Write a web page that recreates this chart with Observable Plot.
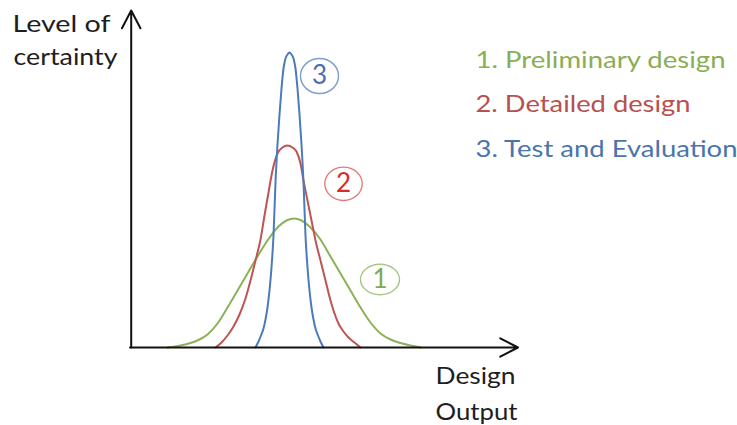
<!DOCTYPE html>
<html>
<head>
<meta charset="utf-8">
<script src="https://cdn.jsdelivr.net/npm/d3@7"></script>
<script src="https://cdn.jsdelivr.net/npm/@observablehq/plot@0.6"></script>
<style>
  html, body { margin: 0; padding: 0; background: #fff; overflow: hidden; }
  svg { display: block; }
</style>
</head>
<body>
<div id="chart"></div>
<script>
// Design output (x) against level of certainty (y), sampled along each stage's curve
const preliminaryX = [37, 50, 60, 69, 77, 87, 97, 107, 117, 127, 137, 148, 156, 163.5,
                      171, 179, 190, 200, 210, 220, 230, 240, 250, 260, 270, 280, 290];
const preliminaryY = [0, 2, 4.5, 8, 13, 24, 40, 57, 74, 91, 107, 121, 127, 129,
                      127, 121, 108, 91, 74, 57, 40, 25, 14, 8, 4.5, 2, 0];

const detailedX = [85, 91, 97, 103, 109, 115, 120, 125, 130, 134, 138, 142, 147, 152, 157,
                   162, 166, 170, 173, 177, 183, 185, 190, 195, 200, 204, 208, 213, 218, 224, 230];
const detailedY = [0, 5, 12, 21, 33, 49, 67, 87, 108, 132, 155, 177, 194, 200, 202,
                   200, 196, 184, 167, 147, 117, 107, 87, 67, 47, 34, 24, 16, 10, 5, 0];

const testX = [125, 128, 130.5, 133, 135, 137, 139, 141, 143, 145, 147, 149, 151, 153, 155, 157, 159,
               161, 163, 165, 167, 169, 171, 173, 175, 177, 179, 181, 183, 185, 187.5, 190, 193];
const testY = [0, 6, 12, 19, 28, 40, 57, 80, 112, 165, 203, 233, 259, 279, 289, 293, 295,
               293, 289, 279, 259, 233, 203, 165, 112, 80, 57, 40, 28, 19, 12, 6, 0];

const stages = ["1. Preliminary design", "2. Detailed design", "3. Test and Evaluation"];
const stageNumbers = ["1", "2", "3"];
const yAxisLabel = ["Level of", "certainty"];
const xAxisLabel = ["Design", "Output"];

// Styling per stage
const curveColors = ["#8db158", "#bd5552", "#4b7bbb"];
const legendColors = ["#8aae55", "#b8504e", "#4a74ae"];
const badgeStroke = ["#a8c583", "#e27a7a", "#7d9dcc"];
const digitColors = ["#84a84e", "#d92b2b", "#4d6ea8"];

// Numbered badges placed beside each curve
const badgeLayout = [
  {x: 249.5, y: 68, r: 19.5, aspect: 0.78},
  {x: 213, y: 163.7, r: 18.7, aspect: 0.89},
  {x: 189, y: 271.5, r: 19, aspect: 0.92}
];

const seriesXY = [[preliminaryX, preliminaryY], [detailedX, detailedY], [testX, testY]];
const curves = seriesXY.flatMap(([xs, ys], i) => xs.map((x, j) => ({stage: i, x, y: ys[j]})));

const xDomain = [0, 388];
const yDomain = [0, 337];

// Ellipse-shaped symbol for the badges
function ellipseSymbol(aspect) {
  return {
    draw(context, size) {
      const rx = Math.sqrt(size / Math.PI), ry = rx * aspect, k = 0.5523;
      context.moveTo(rx, 0);
      context.bezierCurveTo(rx, k * ry, k * rx, ry, 0, ry);
      context.bezierCurveTo(-k * rx, ry, -rx, k * ry, -rx, 0);
      context.bezierCurveTo(-rx, -k * ry, -k * rx, -ry, 0, -ry);
      context.bezierCurveTo(k * rx, -ry, rx, -k * ry, rx, 0);
      context.closePath();
    }
  };
}

const textColor = "#1e1e1e";
const font = "Lato, 'Open Sans', sans-serif";

const chart = Plot.plot({
  width: 737,
  height: 425,
  marginLeft: 130,
  marginRight: 219,
  marginTop: 10,
  marginBottom: 78,
  x: {domain: xDomain, axis: null},
  y: {domain: yDomain, axis: null},
  style: {fontFamily: font, background: "#fff", overflow: "visible"},
  marks: [
    // Curves
    ...stages.map((s, i) =>
      Plot.line(curves.filter(d => d.stage === i), {
        x: "x", y: "y", curve: "monotone-x",
        stroke: curveColors[i], strokeWidth: 2
      })
    ),
    // Axes drawn as arrows
    Plot.arrow([0], {
      x1: -0.5, y1: 0, x2: xDomain[1] - 0.5, y2: 0,
      stroke: "#111", strokeWidth: 2, headLength: 15, headAngle: 55
    }),
    Plot.arrow([0], {
      x1: 0.7, y1: 0, x2: 0.7, y2: yDomain[1],
      stroke: "#111", strokeWidth: 2, headLength: 15, headAngle: 55
    }),
    // Badges
    ...badgeLayout.map((b, i) =>
      Plot.dot([b], {
        x: "x", y: "y", r: b.r, symbol: ellipseSymbol(b.aspect),
        stroke: badgeStroke[i], strokeWidth: 1.4, fill: "none"
      })
    ),
    ...badgeLayout.map((b, i) =>
      Plot.text([stageNumbers[i]], {
        x: b.x, y: b.y, text: d => d, fill: digitColors[i],
        fontSize: 26, textAnchor: "middle", lineAnchor: "middle"
      })
    ),
    // Legend
    ...stages.map((s, i) =>
      Plot.text([s], {
        x: 345, y: 280 - i * 44.5, text: d => d, fill: legendColors[i],
        fontSize: 23, textAnchor: "start", lineAnchor: "bottom"
      })
    ),
    // Axis titles
    Plot.text([yAxisLabel[0]], {x: -118, y: 316, text: d => d, fill: textColor, fontSize: 23, textAnchor: "start", lineAnchor: "bottom"}),
    Plot.text([yAxisLabel[1]], {x: -117, y: 283, text: d => d, fill: textColor, fontSize: 23, textAnchor: "start", lineAnchor: "bottom"}),
    Plot.text([xAxisLabel[0]], {x: 385, y: -36, text: d => d, fill: textColor, fontSize: 23, textAnchor: "end", lineAnchor: "bottom"}),
    Plot.text([xAxisLabel[1]], {x: 387, y: -72, text: d => d, fill: textColor, fontSize: 23, textAnchor: "end", lineAnchor: "bottom"})
  ]
});

document.getElementById("chart").appendChild(chart);

// Set label widths so the humanist sans fills the same run as the original lettering
const labelWidths = {
  "Level of": 98, "certainty": 104,
  "1. Preliminary design": 250, "2. Detailed design": 215, "3. Test and Evaluation": 262,
  "Design": 80, "Output": 82
};
d3.select(chart).selectAll("text").each(function () {
  const w = labelWidths[this.textContent];
  if (w) {
    this.setAttribute("textLength", w);
    this.setAttribute("lengthAdjust", "spacingAndGlyphs");
  }
});
</script>
</body>
</html>
